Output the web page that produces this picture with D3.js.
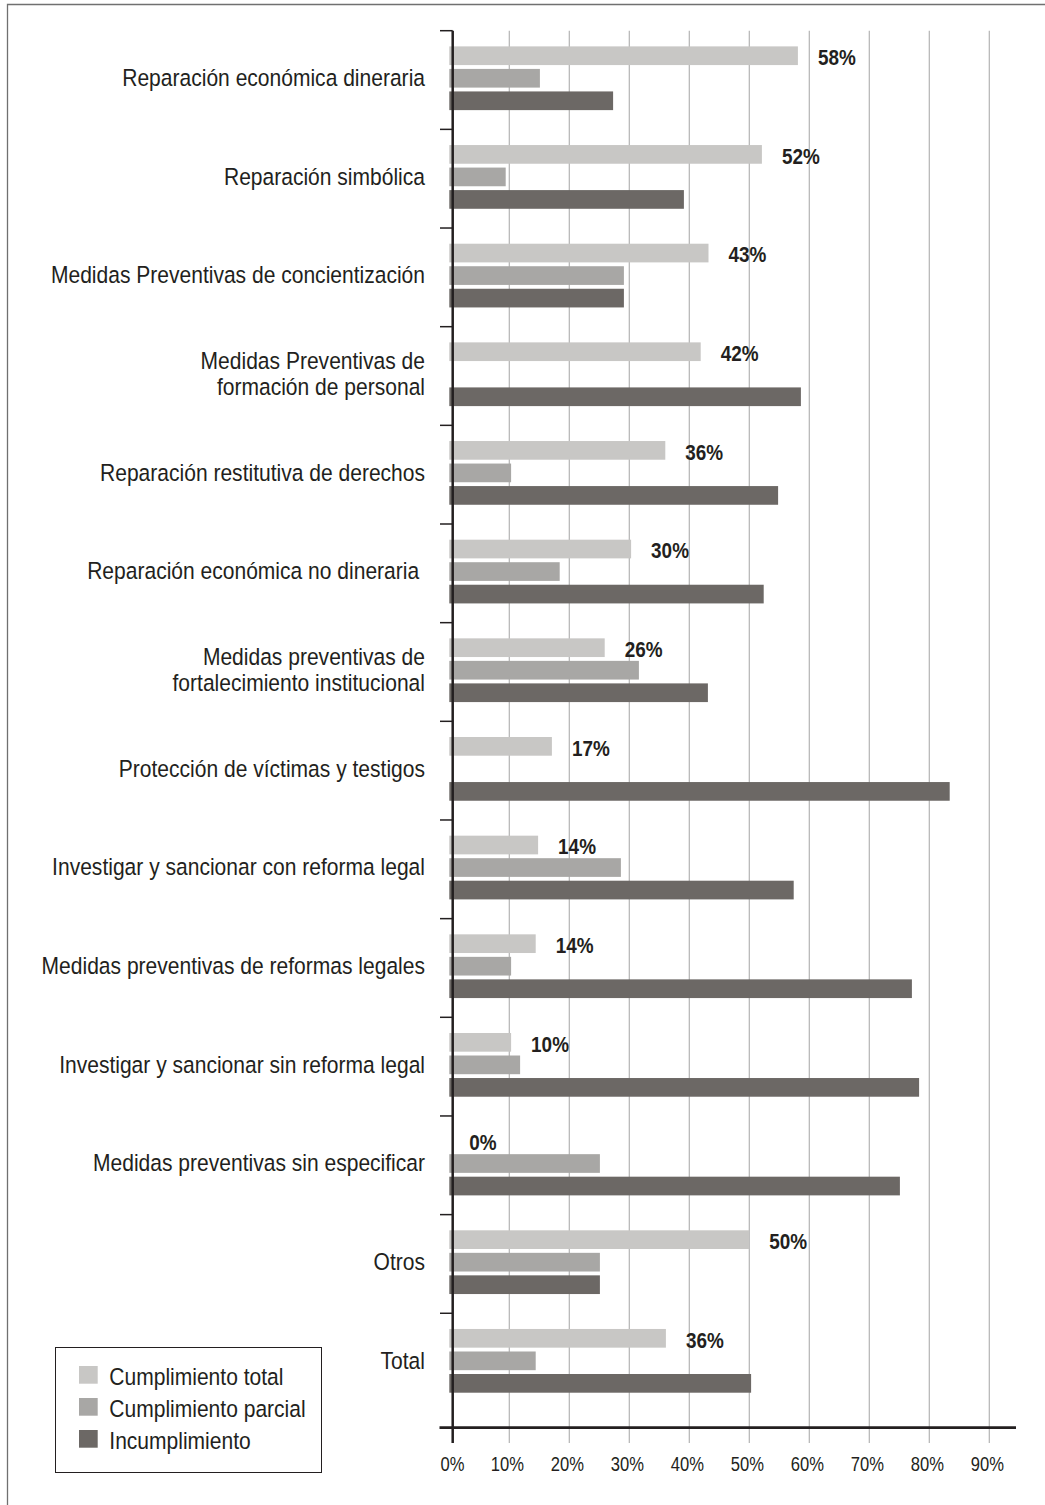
<!DOCTYPE html>
<html>
<head>
<meta charset="utf-8">
<script src="https://cdn.jsdelivr.net/npm/d3@7"></script>
<style>
  body { margin: 0; background: #fff; }
  svg { display: block; }
  text { font-family: "Liberation Sans", Arial, sans-serif; fill: #231f20; }
</style>
</head>
<body>
<script>
// categorías (de arriba a abajo)
const categories = [
  "Reparación económica dineraria",
  "Reparación simbólica",
  "Medidas Preventivas de concientización",
  "Medidas Preventivas de\nformación de personal",
  "Reparación restitutiva de derechos",
  "Reparación económica no dineraria ",
  "Medidas preventivas de\nfortalecimiento institucional",
  "Protección de víctimas y testigos",
  "Investigar y sancionar con reforma legal",
  "Medidas preventivas de reformas legales",
  "Investigar y sancionar sin reforma legal",
  "Medidas preventivas sin especificar",
  "Otros",
  "Total"
];

const seriesNames = ["Cumplimiento total", "Cumplimiento parcial", "Incumplimiento"];

// valores en %
const cumplimientoTotal   = [58.1, 52.1, 43.2, 41.9, 36.0, 30.3, 25.9, 17.1, 14.8, 14.4, 10.3, 0, 50.0, 36.1];
const cumplimientoParcial = [15.1, 9.4, 29.1, 0, 10.3, 18.4, 31.6, 0, 28.6, 10.3, 11.8, 25.1, 25.1, 14.4];
const incumplimiento      = [27.3, 39.1, 29.1, 58.6, 54.8, 52.4, 43.1, 83.4, 57.4, 77.1, 78.3, 75.1, 25.1, 50.3];

// etiquetas sobre la barra de cumplimiento total
const valueLabels = ["58%", "52%", "43%", "42%", "36%", "30%", "26%", "17%", "14%", "14%", "10%", "0%", "50%", "36%"];

const xTicks = [0, 10, 20, 30, 40, 50, 60, 70, 80, 90];

const colors = ["#c8c7c5", "#a8a7a5", "#6c6865"];

const width = 1045, height = 1505;
const axisX = 452.7, axisY = 1427.7;

const svg = d3.select("body").append("svg")
    .attr("width", width)
    .attr("height", height);

// marco (solo arriba e izquierda, como en el original)
svg.append("path")
    .attr("d", `M7.5,${height} V4.5 H${width}`)
    .attr("fill", "none")
    .attr("stroke", "#707070")
    .attr("stroke-width", 1.3);

const x = d3.scaleLinear().domain([0, 90]).range([449.3, 989.3]);
const y0 = d3.scaleBand().domain(categories).range([30.7, 30.7 + 14 * 98.66]);
const bw = y0.bandwidth();
const y1 = d3.scaleBand().domain(seriesNames)
    .range([bw * 0.159, bw * 0.805])
    .paddingInner(0.17);

// líneas de la grilla
svg.append("g").selectAll("line")
    .data(xTicks.slice(1))
    .join("line")
    .attr("x1", d => x(d)).attr("x2", d => x(d))
    .attr("y1", 30.7).attr("y2", 1443)
    .attr("stroke", "#b4b4b4")
    .attr("stroke-width", 1.2);

const rows = categories.map((c, i) => ({
    cat: c,
    vals: [cumplimientoTotal[i], cumplimientoParcial[i], incumplimiento[i]],
    label: valueLabels[i]
}));

const group = svg.append("g").selectAll("g")
    .data(rows)
    .join("g")
    .attr("transform", d => `translate(0,${y0(d.cat)})`);

group.selectAll("rect")
    .data(d => d.vals.map((v, k) => ({ v, k })))
    .join("rect")
    .attr("x", x(0))
    .attr("y", d => y1(seriesNames[d.k]))
    .attr("width", d => x(d.v) - x(0))
    .attr("height", y1.bandwidth())
    .attr("fill", d => colors[d.k]);

// etiqueta de porcentaje
group.append("text")
    .attr("transform", d => `translate(${x(d.vals[0]) + 20},${y1(seriesNames[0]) + y1.bandwidth()}) scale(0.86,1)`)
    .attr("font-size", 22)
    .attr("font-weight", "bold")
    .text(d => d.label);

// nombres de las categorías
const catText = group.append("g")
    .attr("transform", `translate(425,0)`);

catText.each(function (d) {
    const lines = d.cat.split("\n");
    const n = lines.length;
    d3.select(this).selectAll("text")
        .data(lines)
        .join("text")
        .attr("transform", (l, i) => `translate(0,${bw / 2 + 6 + (i - (n - 1) / 2) * 26}) scale(0.895,1)`)
        .attr("text-anchor", "end")
        .attr("font-size", 23.5)
        .style("white-space", "pre")
        .text(l => l);
});

// eje vertical y marcas de grupo
svg.append("line")
    .attr("x1", axisX).attr("x2", axisX)
    .attr("y1", 30.7).attr("y2", 1443)
    .attr("stroke", "#231f20")
    .attr("stroke-width", 2.5);

svg.append("g").selectAll("line")
    .data(categories)
    .join("line")
    .attr("x1", 440).attr("x2", axisX)
    .attr("y1", d => y0(d)).attr("y2", d => y0(d))
    .attr("stroke", "#231f20")
    .attr("stroke-width", 1.5);

// eje horizontal
svg.append("line")
    .attr("x1", 439.5).attr("x2", 1016)
    .attr("y1", axisY).attr("y2", axisY)
    .attr("stroke", "#231f20")
    .attr("stroke-width", 2.7);

const xAxis = svg.append("g")
    .attr("transform", `translate(0,${axisY})`)
    .call(d3.axisBottom(x).tickValues(xTicks).tickFormat(d => d + "%").tickSize(0));
xAxis.select(".domain").remove();
xAxis.selectAll("text")
    .attr("y", 43)
    .attr("dy", 0)
    .attr("font-size", 21)
    .attr("font-family", "Liberation Sans, Arial, sans-serif")
    .attr("fill", "#231f20")
    .attr("transform", d => `translate(${d === 0 ? 2.7 : -2.5},0) scale(0.79,1)`);

// leyenda
const legend = svg.append("g");
legend.append("rect")
    .attr("x", 55.5).attr("y", 1347.5)
    .attr("width", 266).attr("height", 125)
    .attr("fill", "#fff")
    .attr("stroke", "#231f20")
    .attr("stroke-width", 1);

const li = legend.selectAll("g.item")
    .data(seriesNames)
    .join("g")
    .attr("class", "item")
    .attr("transform", (d, i) => `translate(0,${1385 + i * 32})`);

li.append("rect")
    .attr("x", 79).attr("y", -19)
    .attr("width", 18.7).attr("height", 17.7)
    .attr("fill", (d, i) => colors[i]);

li.append("text")
    .attr("transform", "translate(109.3,0) scale(0.895,1)")
    .attr("font-size", 23.5)
    .text(d => d);
</script>
</body>
</html>
